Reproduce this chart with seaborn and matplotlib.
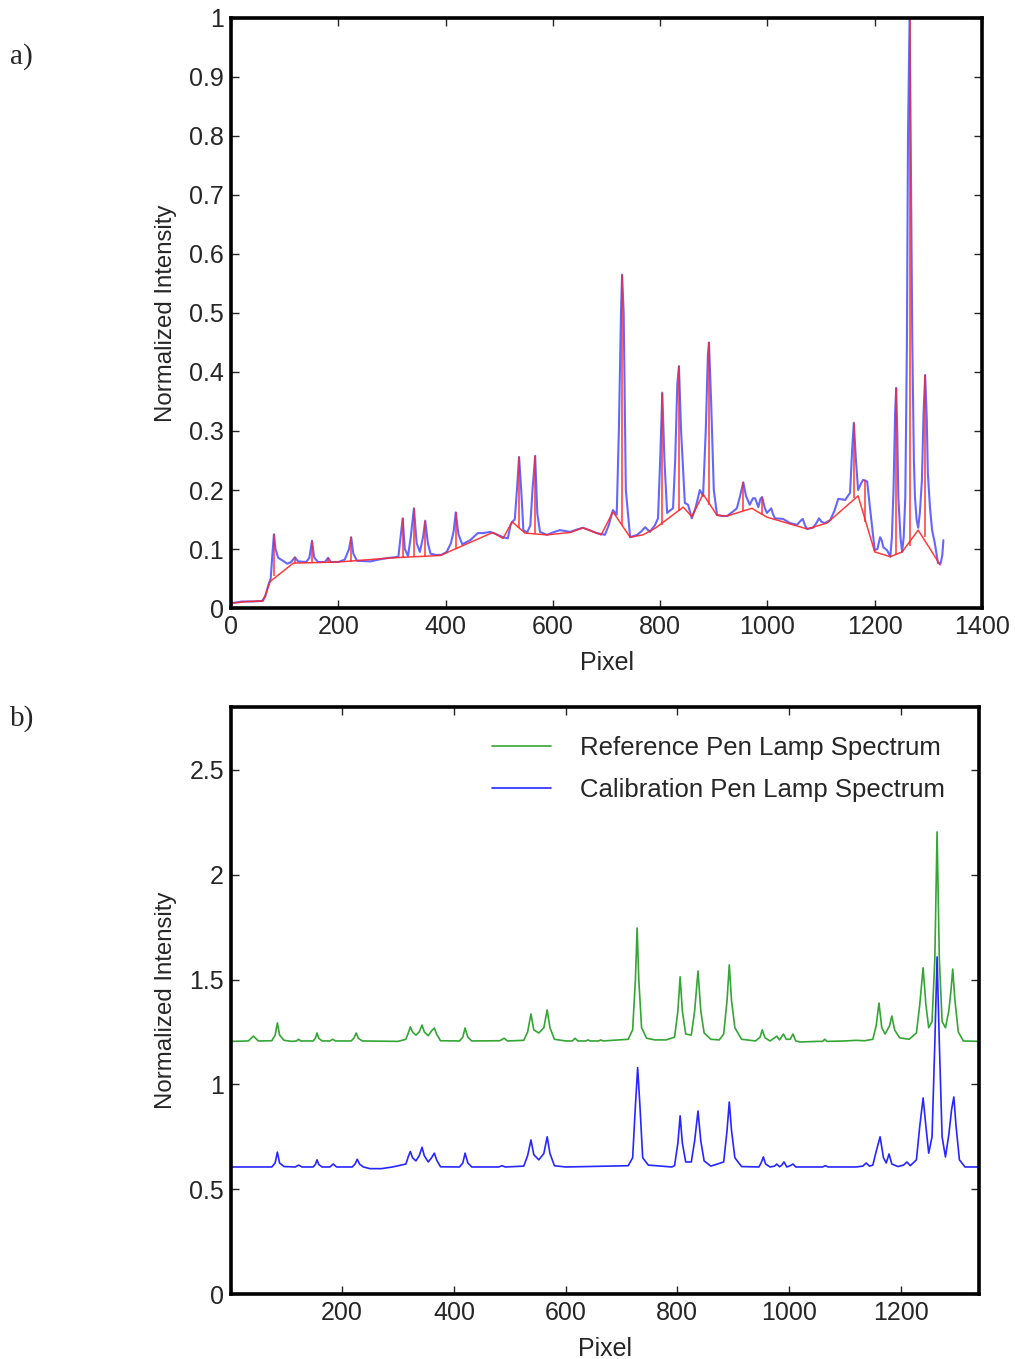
import numpy as np
import pandas as pd
import matplotlib
matplotlib.use("Agg")
import matplotlib.pyplot as plt
from matplotlib.ticker import FuncFormatter, MultipleLocator
import seaborn as sns

# ---------------- Panel a) data ----------------
spec_x = [0, 20, 40, 58, 64, 70, 74, 77, 80, 83, 88, 97, 105, 112, 119, 125, 140, 146, 151, 155, 162, 175, 181, 186,
          200, 212, 220, 224, 228, 235, 260, 280, 295, 305, 312, 316, 320, 324, 330, 335, 341, 346, 352, 358, 362, 367,
          372, 382, 392, 402, 410, 415, 419, 424, 431, 446, 460, 470, 483, 495, 507, 516, 521, 524, 529, 533, 537, 541,
          545, 552, 558, 562, 567, 571, 576, 589, 600, 613, 632, 645, 656, 668, 682, 697, 704, 712, 719, 723, 727, 729,
          732, 736, 744, 757, 765, 772, 781, 790, 796, 800, 804, 808, 813, 818, 824, 828, 832, 835, 839, 846, 852, 859,
          866, 874, 880, 885, 889, 891, 895, 900, 906, 915, 925, 935, 943, 949, 955, 960, 967, 973, 977, 983, 987, 990,
          995, 999, 1003, 1007, 1010, 1014, 1029, 1042, 1055, 1062, 1066, 1070, 1074, 1085, 1092, 1096, 1101, 1107, 1117,
          1125, 1132, 1140, 1145, 1150, 1154, 1158, 1161, 1165, 1169, 1174, 1178, 1183, 1186, 1191, 1196, 1200, 1205,
          1210, 1213, 1216, 1223, 1229, 1232, 1235, 1238, 1240, 1242, 1244, 1248, 1251, 1254, 1257, 1260, 1262, 1265,
          1267, 1270, 1273, 1275, 1278, 1281, 1284, 1288, 1291, 1294, 1297, 1299, 1303, 1307, 1312, 1318, 1323, 1326, 1328]
spec_y = [0.008, 0.011, 0.011, 0.012, 0.02, 0.04, 0.05, 0.09, 0.125, 0.1, 0.085, 0.08, 0.075, 0.078, 0.086, 0.079,
          0.078, 0.085, 0.114, 0.086, 0.078, 0.078, 0.085, 0.078, 0.078, 0.082, 0.1, 0.12, 0.092, 0.08, 0.079, 0.083,
          0.085, 0.086, 0.087, 0.12, 0.152, 0.1, 0.088, 0.12, 0.169, 0.11, 0.095, 0.12, 0.148, 0.11, 0.092, 0.09, 0.09,
          0.095, 0.11, 0.13, 0.162, 0.125, 0.108, 0.115, 0.127, 0.127, 0.129, 0.125, 0.12, 0.118, 0.14, 0.146, 0.15,
          0.2, 0.256, 0.2, 0.132, 0.128, 0.14, 0.2, 0.258, 0.16, 0.129, 0.124, 0.128, 0.132, 0.129, 0.133, 0.136, 0.132,
          0.127, 0.124, 0.14, 0.166, 0.158, 0.3, 0.5, 0.565, 0.5, 0.2, 0.12, 0.124, 0.13, 0.137, 0.129, 0.14, 0.152,
          0.25, 0.365, 0.25, 0.161, 0.165, 0.169, 0.25, 0.38, 0.41, 0.3, 0.178, 0.175, 0.152, 0.17, 0.2, 0.19, 0.3,
          0.43, 0.45, 0.35, 0.2, 0.158, 0.156, 0.156, 0.163, 0.169, 0.19, 0.213, 0.19, 0.175, 0.186, 0.186, 0.171,
          0.185, 0.188, 0.17, 0.161, 0.165, 0.169, 0.16, 0.152, 0.151, 0.144, 0.141, 0.148, 0.151, 0.14, 0.134, 0.136,
          0.145, 0.152, 0.146, 0.144, 0.149, 0.165, 0.185, 0.184, 0.183, 0.19, 0.195, 0.27, 0.314, 0.25, 0.2, 0.21,
          0.217, 0.216, 0.214, 0.171, 0.13, 0.098, 0.1, 0.12, 0.115, 0.103, 0.098, 0.087, 0.12, 0.2, 0.33, 0.373, 0.3,
          0.188, 0.12, 0.095, 0.12, 0.188, 0.45, 0.8, 1.0, 0.8, 0.45, 0.25, 0.188, 0.15, 0.136, 0.16, 0.217, 0.33,
          0.395, 0.32, 0.229, 0.17, 0.132, 0.11, 0.076, 0.076, 0.09, 0.115]

base_x = [0, 30, 60, 73, 116, 200, 300, 390, 488, 507, 524, 548, 589, 632, 656, 690, 712, 744, 768, 792, 843, 859,
          880, 906, 925, 971, 999, 1074, 1111, 1169, 1200, 1229, 1251, 1281, 1322]
base_y = [0.008, 0.011, 0.012, 0.045, 0.076, 0.078, 0.085, 0.089, 0.128, 0.118, 0.146, 0.127, 0.124, 0.128, 0.136,
          0.124, 0.163, 0.12, 0.124, 0.136, 0.171, 0.155, 0.193, 0.157, 0.156, 0.169, 0.154, 0.134, 0.144, 0.19,
          0.095, 0.087, 0.095, 0.132, 0.073]

peak_x = [80, 119, 151, 181, 224, 320, 341, 362, 419, 537, 567, 729, 804, 835, 891, 955, 990, 1161, 1182, 1240, 1265, 1294]
peak_base = [0.055, 0.077, 0.077, 0.078, 0.078, 0.086, 0.087, 0.088, 0.1, 0.136, 0.125, 0.14, 0.14, 0.165, 0.175,
             0.165, 0.158, 0.186, 0.145, 0.09, 0.105, 0.12]
peak_top = [0.125, 0.086, 0.114, 0.085, 0.12, 0.152, 0.169, 0.148, 0.162, 0.256, 0.258, 0.565, 0.365, 0.41, 0.45,
            0.213, 0.188, 0.314, 0.217, 0.373, 1.0, 0.395]

# ---------------- Panel b) data ----------------
ref_x = [1, 32, 41, 50, 74, 80, 84, 88, 96, 110, 118, 122, 126, 148, 152, 155, 158, 164, 178, 183, 188, 216, 221, 225,
         229, 236, 300, 314, 319, 322, 326, 332, 338, 343, 347, 354, 360, 365, 369, 376, 410, 416, 420, 425, 432, 482,
         490, 496, 525, 532, 538, 543, 552, 561, 567, 572, 580, 600, 612, 617, 622, 636, 640, 644, 659, 663, 667, 712,
         720, 725, 728, 731, 736, 745, 760, 780, 795, 801, 805, 809, 815, 825, 831, 837, 842, 848, 860, 875, 883, 889,
         893, 897, 903, 915, 940, 948, 952, 957, 966, 973, 978, 983, 990, 995, 1002, 1007, 1012, 1020, 1050, 1060,
         1064, 1068, 1100, 1120, 1135, 1150, 1156, 1161, 1166, 1172, 1180, 1184, 1189, 1198, 1215, 1228, 1234, 1240,
         1245, 1250, 1256, 1261, 1265, 1269, 1274, 1280, 1286, 1290, 1293, 1297, 1303, 1312, 1340]
ref_y = [1.205, 1.207, 1.23, 1.207, 1.208, 1.235, 1.293, 1.235, 1.21, 1.205, 1.207, 1.215, 1.207, 1.207, 1.22, 1.245,
         1.22, 1.207, 1.207, 1.215, 1.207, 1.207, 1.22, 1.245, 1.22, 1.207, 1.205, 1.215, 1.25, 1.274, 1.25, 1.235,
         1.25, 1.283, 1.25, 1.232, 1.255, 1.269, 1.24, 1.208, 1.207, 1.225, 1.269, 1.225, 1.207, 1.208, 1.22, 1.207,
         1.21, 1.25, 1.336, 1.26, 1.245, 1.27, 1.355, 1.27, 1.215, 1.207, 1.207, 1.22, 1.207, 1.207, 1.212, 1.207,
         1.207, 1.212, 1.207, 1.215, 1.26, 1.5, 1.746, 1.5, 1.27, 1.22, 1.212, 1.212, 1.225, 1.35, 1.513, 1.35, 1.24,
         1.235, 1.35, 1.541, 1.35, 1.245, 1.215, 1.212, 1.24, 1.4, 1.57, 1.4, 1.27, 1.215, 1.207, 1.225, 1.26, 1.222,
         1.207, 1.22, 1.23, 1.212, 1.24, 1.215, 1.215, 1.24, 1.207, 1.202, 1.205, 1.205, 1.215, 1.205, 1.207, 1.21,
         1.208, 1.215, 1.28, 1.388, 1.27, 1.24, 1.28, 1.326, 1.26, 1.222, 1.215, 1.245, 1.38, 1.556, 1.38, 1.27, 1.3,
         1.6, 2.204, 1.6, 1.3, 1.27, 1.35, 1.45, 1.55, 1.4, 1.25, 1.207, 1.205]

cal_x = [1, 74, 80, 84, 88, 96, 116, 122, 128, 148, 152, 155, 158, 164, 178, 184, 190, 218, 223, 227, 231, 238, 250,
         270, 290, 314, 319, 322, 326, 332, 338, 343, 347, 354, 360, 365, 369, 376, 410, 416, 420, 425, 432, 480, 486,
         492, 525, 532, 538, 543, 552, 561, 567, 572, 580, 600, 712, 720, 725, 729, 733, 738, 748, 790, 795, 801, 805,
         809, 815, 825, 831, 837, 842, 848, 860, 883, 889, 893, 897, 903, 915, 946, 950, 954, 958, 966, 974, 978, 983,
         987, 991, 996, 1002, 1007, 1012, 1060, 1065, 1070, 1120, 1132, 1138, 1144, 1150, 1156, 1163, 1169, 1174, 1179,
         1184, 1195, 1205, 1211, 1217, 1228, 1234, 1240, 1245, 1250, 1256, 1261, 1265, 1269, 1274, 1280, 1286, 1291,
         1295, 1299, 1305, 1315, 1340]
cal_y = [0.606, 0.606, 0.625, 0.677, 0.625, 0.608, 0.606, 0.615, 0.606, 0.606, 0.618, 0.64, 0.618, 0.606, 0.606,
         0.62, 0.606, 0.606, 0.62, 0.643, 0.62, 0.606, 0.598, 0.598, 0.606, 0.62, 0.66, 0.68, 0.65, 0.635, 0.66, 0.70,
         0.66, 0.63, 0.65, 0.672, 0.64, 0.607, 0.606, 0.625, 0.672, 0.625, 0.606, 0.606, 0.612, 0.606, 0.61, 0.66,
         0.735, 0.665, 0.64, 0.67, 0.75, 0.67, 0.612, 0.606, 0.612, 0.65, 0.9, 1.08, 0.9, 0.65, 0.615, 0.606, 0.612,
         0.72, 0.85, 0.72, 0.63, 0.63, 0.73, 0.873, 0.73, 0.635, 0.61, 0.63, 0.78, 0.916, 0.78, 0.65, 0.608, 0.606,
         0.625, 0.654, 0.62, 0.606, 0.61, 0.62, 0.607, 0.615, 0.63, 0.606, 0.612, 0.62, 0.606, 0.606, 0.612, 0.606,
         0.606, 0.61, 0.625, 0.61, 0.615, 0.68, 0.75, 0.65, 0.625, 0.668, 0.62, 0.608, 0.615, 0.63, 0.612, 0.64, 0.8,
         0.935, 0.8, 0.672, 0.75, 1.2, 1.608, 1.2, 0.75, 0.654, 0.76, 0.88, 0.94, 0.8, 0.64, 0.606, 0.606]

ref_label = "Reference Pen Lamp Spectrum"
cal_label = "Calibration Pen Lamp Spectrum"

# ---------------- Styling ----------------
sns.set_style("ticks")
plt.rcParams['font.family'] = ['Liberation Sans', 'DejaVu Sans']
plt.rcParams['font.size'] = 18
plt.rcParams['xtick.direction'] = 'in'
plt.rcParams['ytick.direction'] = 'in'
plt.rcParams['xtick.top'] = True
plt.rcParams['ytick.right'] = True

fig = plt.figure(figsize=(10.15, 13.59), dpi=100)
ax1 = fig.add_axes([0.2276, 0.5526, 0.7399, 0.4342])
ax2 = fig.add_axes([0.2276, 0.0478, 0.7369, 0.4320])

fmt = FuncFormatter(lambda v, p: "%g" % round(v, 3))

# Panel a
sns.lineplot(x=spec_x, y=spec_y, ax=ax1, color=(0.25, 0.25, 1.0), lw=1.5, alpha=0.8,
             sort=False, estimator=None)
sns.lineplot(x=base_x, y=base_y, ax=ax1, color=(1.0, 0.15, 0.15), lw=1.1, alpha=0.9,
             sort=False, estimator=None)
ax1.vlines(peak_x, peak_base, peak_top, color=(1.0, 0.15, 0.15), lw=1.2, alpha=0.85)
ax1.set_xlim(0, 1400)
ax1.set_ylim(0, 1)
ax1.xaxis.set_major_locator(MultipleLocator(200))
ax1.yaxis.set_major_locator(MultipleLocator(0.1))
ax1.yaxis.set_major_formatter(fmt)
ax1.set_xlabel("Pixel", labelpad=9)
ax1.set_ylabel("Normalized Intensity", labelpad=9, fontsize=17.3)

# Panel b
sns.lineplot(x=ref_x, y=ref_y, ax=ax2, color=(0.2, 0.65, 0.2), lw=1.2, sort=False,
             estimator=None, label=ref_label)
sns.lineplot(x=cal_x, y=cal_y, ax=ax2, color=(0.15, 0.15, 1.0), lw=1.2, sort=False,
             estimator=None, label=cal_label)
ax2.set_xlim(1, 1340)
ax2.set_ylim(0, 2.8)
ax2.xaxis.set_major_locator(MultipleLocator(200))
ax2.yaxis.set_major_locator(MultipleLocator(0.5))
ax2.yaxis.set_major_formatter(fmt)
ax2.set_xlabel("Pixel", labelpad=9)
ax2.set_ylabel("Normalized Intensity", labelpad=9, fontsize=17.3)
leg = ax2.legend(loc='upper right', frameon=False, fontsize=18.5, handlelength=2.3,
                 handletextpad=1.1, labelspacing=0.72, bbox_to_anchor=(0.985, 0.99))

for ax in (ax1, ax2):
    for s in ax.spines.values():
        s.set_linewidth(2.6)
        s.set_color('black')
    ax.tick_params(length=6, width=1, labelsize=18, pad=5)

fig.text(0.010, 0.953, "a)", fontsize=21, family=['Liberation Serif'])
fig.text(0.010, 0.466, "b)", fontsize=21, family=['Liberation Serif'])

fig.savefig("out.png", dpi=100)
